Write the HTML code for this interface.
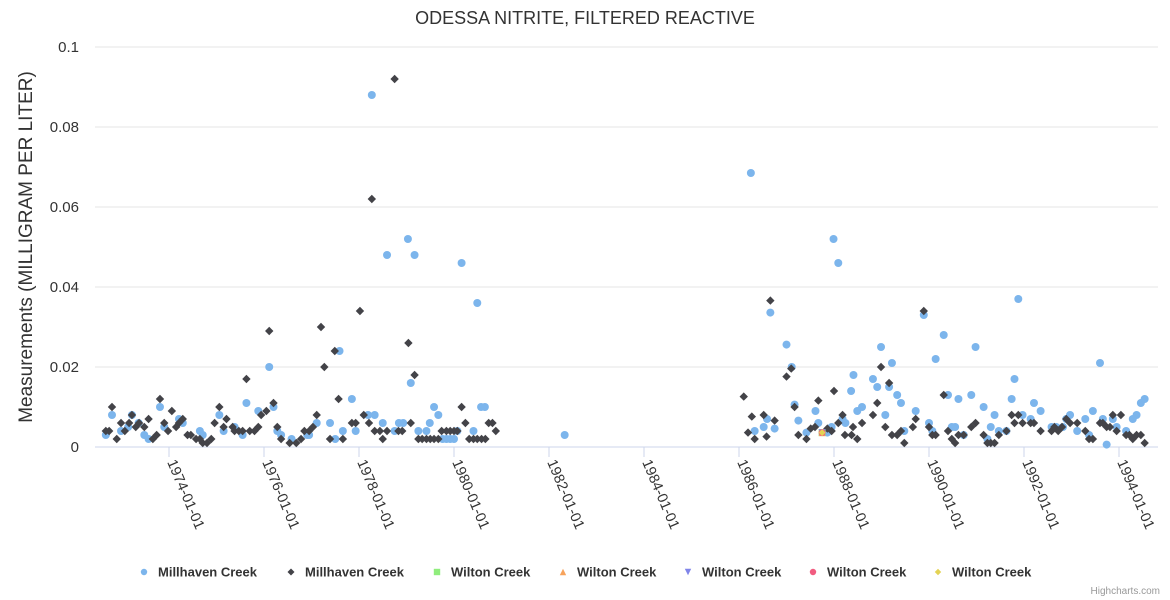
<!DOCTYPE html>
<html><head><meta charset="utf-8"><style>
html,body{margin:0;padding:0;background:#fff;}
svg{display:block;font-family:"Liberation Sans",sans-serif;}
</style></head><body>
<svg id="chart" width="1170" height="600" xmlns="http://www.w3.org/2000/svg">
<rect width="1170" height="600" fill="#fff"/>
<text x="585" y="24" text-anchor="middle" font-size="18" fill="#333">ODESSA NITRITE, FILTERED REACTIVE</text>
<g id="grid"></g>
<g id="yticks"></g>
<g id="xticks"></g>
<text transform="translate(32,247) rotate(-90)" text-anchor="middle" font-size="19" fill="#333">Measurements (MILLIGRAM PER LITER)</text>
<g id="marks"></g>
<g id="legend"></g>
<text x="1160" y="594" text-anchor="end" font-size="10" fill="#999">Highcharts.com</text>
</svg>
<script>
const yTicks=[0,0.02,0.04,0.06,0.08,0.1];
const yTickLabels=["0","0.02","0.04","0.06","0.08","0.1"];
const xTicks=[1974,1976,1978,1980,1982,1984,1986,1988,1990,1992,1994];
const xTickLabels=["1974-01-01","1976-01-01","1978-01-01","1980-01-01","1982-01-01","1984-01-01","1986-01-01","1988-01-01","1990-01-01","1992-01-01","1994-01-01"];
const millhavenBlueYears=[1972.67,1972.99,1972.80,1973.14,1973.22,1973.36,1973.48,1973.57,1973.81,1973.90,1974.21,1974.29,1974.65,1974.71,1975.06,1975.15,1975.38,1975.55,1975.63,1975.88,1976.11,1976.20,1976.28,1976.36,1976.58,1976.91,
1976.95,1977.11,1977.39,1977.50,1977.59,1977.66,1977.85,1977.93,1978.19,1978.27,1978.33,1978.50,1978.59,1978.75,1978.84,1978.93,1979.03,1979.09,1979.17,1979.25,1979.42,1979.49,1979.58,1979.67,1979.76,1979.84,1979.92,1980.00,1980.07,1980.16,1980.41,1980.49,1980.57,1980.65,1982.33,
1986.33,1986.52,1986.59,1986.66,1986.25,1986.75,1987.00,1987.11,1987.17,1987.25,1987.42,1987.61,1987.67,1987.86,1987.95,1987.99,1988.09,1988.18,1988.24,1988.36,1988.41,1988.49,1988.59,1988.82,1988.91,1988.99,1989.08,1989.16,1989.22,1989.33,1989.41,1989.48,1989.72,1989.89,1990.00,1990.07,1990.14,1990.31,1990.40,1990.48,1990.55,1990.62,1990.73,1990.89,1990.98,1991.15,1991.23,1991.30,1991.38,1991.47,1991.63,1991.74,1991.80,1991.88,1991.97,1992.14,1992.21,1992.35,1992.58,1992.68,1992.82,1992.89,1992.97,1993.12,1993.29,1993.37,1993.45,1993.60,1993.66,1993.74,1993.87,1993.95,1994.15,1994.29,1994.37,1994.46,1994.54];
const millhavenBlueValues=[.003,.004,.008,.005,.008,.006,.003,.002,.010,.005,.007,.006,.004,.003,.008,.004,.005,.003,.011,.009,.020,.010,.004,.003,.002,.003,
.003,.006,.006,.002,.024,.004,.012,.004,.008,.088,.008,.006,.048,.004,.006,.006,.052,.016,.048,.004,.004,.006,.010,.008,.002,.002,.002,.002,.004,.046,.004,.036,.010,.010,.003,
.004,.005,.007,.0336,.0685,.0046,.0256,.020,.0106,.0066,.0036,.009,.006,.0036,.005,.052,.046,.007,.006,.014,.018,.009,.010,.017,.015,.025,.008,.015,.021,.013,.011,.004,.009,.033,.006,.004,.022,.028,.013,.005,.005,.012,.003,.013,.025,.010,.002,.005,.008,.004,.004,.012,.017,.037,.008,.007,.011,.009,.005,.005,.005,.007,.008,.004,.007,.003,.009,.021,.007,.0006,.007,.005,.004,.007,.008,.011,.012];
const millhavenDarkYears=[1972.67,1972.74,1972.80,1972.90,1972.99,1973.07,1973.16,1973.22,1973.30,1973.37,1973.48,1973.57,1973.66,1973.74,1973.81,1973.90,1973.98,1974.06,1974.15,1974.21,1974.29,1974.39,1974.46,1974.57,1974.65,1974.71,1974.80,1974.89,1974.96,1975.06,1975.15,1975.21,1975.34,1975.38,1975.47,1975.55,1975.63,1975.70,1975.80,1975.88,1975.94,1976.05,1976.11,1976.20,1976.28,1976.36,1976.54,1976.68,1976.78,1976.85,
1976.95,1977.03,1977.11,1977.20,1977.27,1977.39,1977.49,1977.57,1977.66,1977.85,1977.93,1978.02,1978.10,1978.21,1978.27,1978.33,1978.44,1978.50,1978.59,1978.75,1978.83,1978.91,1979.04,1979.09,1979.17,1979.25,1979.33,1979.42,1979.50,1979.58,1979.67,1979.74,1979.84,1979.92,1980.00,1980.07,1980.16,1980.24,1980.32,1980.41,1980.49,1980.58,1980.66,1980.73,1980.81,1980.88,
1986.10,1986.19,1986.27,1986.33,1986.52,1986.58,1986.66,1986.75,1987.00,1987.10,1987.17,1987.25,1987.42,1987.51,1987.60,1987.67,1987.86,1987.95,1988.00,1988.09,1988.18,1988.23,1988.37,1988.40,1988.49,1988.59,1988.82,1988.91,1988.99,1989.08,1989.16,1989.22,1989.33,1989.41,1989.48,1989.66,1989.72,1989.89,1990.00,1990.07,1990.14,1990.31,1990.40,1990.48,1990.55,1990.62,1990.73,1990.89,1990.98,1991.15,1991.23,1991.30,1991.38,1991.47,1991.63,1991.74,1991.80,1991.88,1991.97,1992.14,1992.21,1992.35,1992.58,1992.64,1992.72,1992.80,1992.89,1992.97,1993.12,1993.29,1993.37,1993.45,1993.60,1993.66,1993.74,1993.81,1993.87,1993.95,1994.04,1994.15,1994.22,1994.29,1994.37,1994.46,1994.54];
const millhavenDarkValues=[.004,.004,.010,.002,.006,.004,.006,.008,.005,.006,.005,.007,.002,.003,.012,.006,.004,.009,.005,.006,.007,.003,.003,.002,.002,.001,.001,.002,.006,.010,.005,.007,.005,.004,.004,.004,.017,.004,.004,.005,.008,.009,.029,.011,.005,.002,.001,.001,.002,.004,
.004,.005,.008,.030,.020,.002,.024,.012,.002,.006,.006,.034,.008,.006,.062,.004,.004,.002,.004,.092,.004,.004,.026,.006,.018,.002,.002,.002,.002,.002,.002,.004,.004,.004,.004,.004,.010,.006,.002,.002,.002,.002,.002,.006,.006,.004,
.0126,.0036,.0076,.002,.008,.0026,.0366,.0066,.0176,.0196,.010,.003,.002,.0046,.005,.0116,.0046,.004,.014,.006,.008,.003,.003,.005,.002,.006,.008,.011,.020,.005,.016,.003,.003,.004,.001,.005,.007,.034,.005,.003,.003,.013,.004,.002,.001,.003,.003,.005,.006,.003,.001,.001,.001,.003,.004,.008,.006,.008,.006,.006,.006,.004,.004,.005,.004,.005,.007,.006,.006,.004,.002,.002,.006,.006,.005,.005,.008,.004,.008,.003,.003,.002,.003,.003,.001];
const wiltonYears=[1987.75];
const wiltonValues=[.0036];
const legendLabels=["Millhaven Creek","Millhaven Creek","Wilton Creek","Wilton Creek","Wilton Creek","Wilton Creek","Wilton Creek"];
const legendColors=["#7cb5ec","#434348","#90ed7d","#f7a35c","#8085e9","#f15c80","#e4d354"];
const legendSymbols=["circle","diamond","square","triangle","triangle-down","circle","diamond"];

const NS="http://www.w3.org/2000/svg";
const PL=95,PR=1158,PT=47,PB=447;
function xScale(yr){return 169+(yr-1974)*47.5;}
function yScale(v){return PB-(v/0.1)*(PB-PT);}
function mk(tag,attrs,parent){const e=document.createElementNS(NS,tag);for(const k in attrs)e.setAttribute(k,attrs[k]);parent.appendChild(e);return e;}
function symbol(type,cx,cy,r,color,parent){
  let e;
  if(type==="circle")e=mk("circle",{cx:cx,cy:cy,r:r,fill:color},parent);
  else if(type==="diamond")e=mk("path",{d:`M${cx},${cy-r}L${cx+r},${cy}L${cx},${cy+r}L${cx-r},${cy}Z`,fill:color},parent);
  else if(type==="square")e=mk("rect",{x:cx-r,y:cy-r,width:2*r,height:2*r,fill:color},parent);
  else if(type==="triangle")e=mk("path",{d:`M${cx},${cy-r}L${cx+r},${cy+r}L${cx-r},${cy+r}Z`,fill:color},parent);
  else e=mk("path",{d:`M${cx-r},${cy-r}L${cx+r},${cy-r}L${cx},${cy+r}Z`,fill:color},parent);
  return e;
}
const grid=document.getElementById('grid'),yt=document.getElementById('yticks'),xt=document.getElementById('xticks');
yTicks.forEach((v,i)=>{
  const y=yScale(v);
  const l=mk("line",{x1:PL,x2:PR,y1:y,y2:y,stroke:i===0?"#ccd6eb":"#e6e6e6","stroke-width":1},grid);
  
  
  const t=mk("text",{x:79,y:y+5,"text-anchor":"end","font-size":15,fill:"#333"},yt);
  t.textContent=yTickLabels[i];
  
  
});
xTicks.forEach((yr,i)=>{
  const x=xScale(yr);
  const l=mk("line",{x1:x,x2:x,y1:PB,y2:PB+10,stroke:"#ccd6eb"},grid);
  
  
  const t=mk("text",{x:x-2,y:PB+15,"font-size":14.5,fill:"#333",transform:`rotate(67 ${x-2} ${PB+15})`},xt);
  t.textContent=xTickLabels[i];
  
  
});
const marks=document.getElementById('marks');
millhavenBlueYears.forEach((yr,i)=>{
  const e=symbol("circle",xScale(yr),yScale(millhavenBlueValues[i]),4,"#7cb5ec",marks);
  
  
});
millhavenDarkYears.forEach((yr,i)=>{
  const e=symbol("diamond",xScale(yr),yScale(millhavenDarkValues[i]),4.2,"#434348",marks);
  
  
});
for(let s=2;s<7;s++){
  wiltonYears.forEach((yr,i)=>{
    const e=symbol(legendSymbols[s],xScale(yr),yScale(wiltonValues[i]),3.5,legendColors[s],marks);
    
    
  });
}
const lg=document.getElementById('legend');
const legendX=[144,291,437,563,688,813,938];
legendLabels.forEach((lab,i)=>{
  const g=mk("g",{},lg);
  
  
  symbol(legendSymbols[i],legendX[i],572,i===1?3.5:3.2,legendColors[i],g);
  const t=mk("text",{x:legendX[i]+14,y:576.5,"font-size":13,"font-weight":"bold",fill:"#333"},g);
  t.textContent=lab;
});
</script>
</body></html>
